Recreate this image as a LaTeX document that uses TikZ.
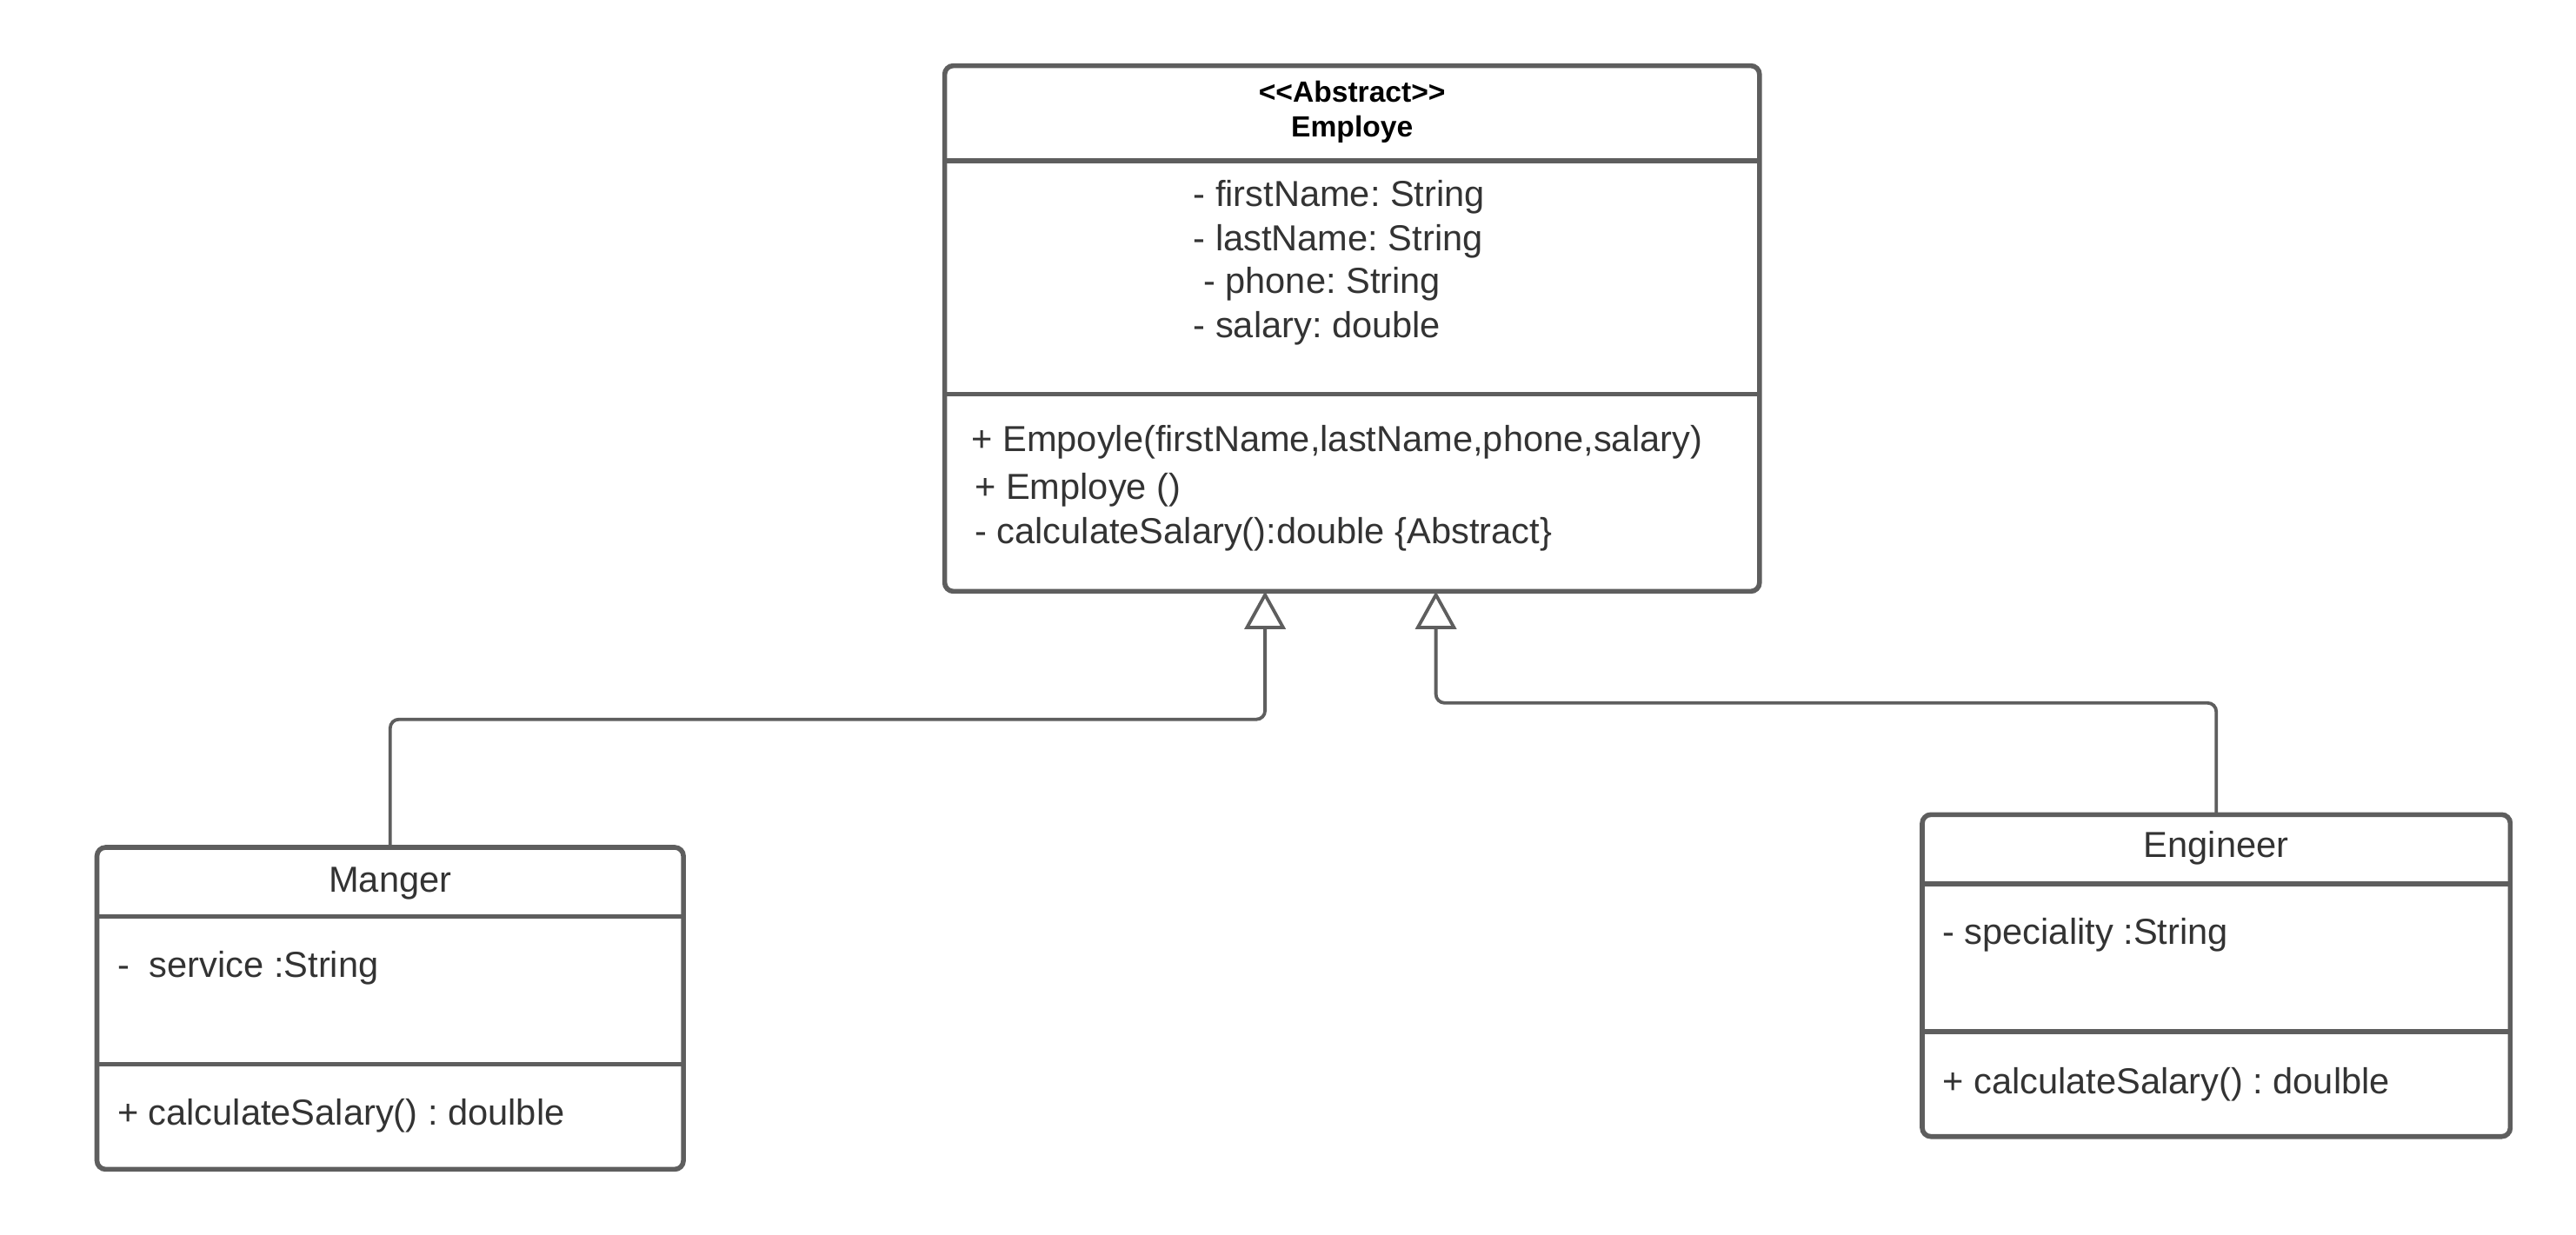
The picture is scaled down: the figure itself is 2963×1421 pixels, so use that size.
\documentclass[tikz,border=0pt]{standalone}
\usepackage{fontspec}
\setmainfont{Liberation Sans}
\usetikzlibrary{arrows.meta}
\definecolor{lineg}{HTML}{5E5E5E}
\definecolor{txtc}{HTML}{333333}
\frenchspacing
\begin{document}
\begin{tikzpicture}[x=0.25pt,y=-0.25pt,
  classbox/.style={draw=lineg, line width=1.4pt, rounded corners=2.5pt, inner sep=0pt, outer sep=0pt, anchor=north west},
  divider/.style={draw=lineg, line width=1.4pt},
  conn/.style={draw=lineg, line width=0.95pt, rounded corners=2.5pt, -{Triangle[open,length=10.9pt,width=11.8pt]}},
  txt/.style={text=txtc, font=\fontsize{10.4}{12}\selectfont, inner sep=0pt, anchor=base west},
  ctxt/.style={text=txtc, font=\fontsize{10.4}{12}\selectfont, inner sep=0pt, anchor=base},
  ttl/.style={text=black, font=\bfseries\fontsize{8.4}{10}\selectfont, inner sep=0pt, anchor=base}]
\useasboundingbox (0,0) rectangle (2963,1421);

% Employe
\node[classbox, minimum width=234.3pt, minimum height=151.2pt] (emp) at (1086.6,75.6) {};
\draw[divider] (1086.6,185.2) -- (2023.9,185.2);
\draw[divider] (1086.6,453.5) -- (2023.9,453.5);
\node[ttl] (empst) at (1555.2,118) {{<}{<}Abstract{>}{>}};
\node[ttl] (empn) at (1555.2,157.5) {Employe};
\node[txt] (ea1) at (1371.9,238) {- firstName: String};
\node[txt] (ea2) at (1371.9,289) {- lastName: String};
\node[txt] (ea3) at (1383.3,338) {- phone: String};
\node[txt] (ea4) at (1371.9,389) {- salary: double};
\node[txt] (em1) at (1116.8,519.5) {+ Empoyle(firstName,lastName,phone,salary)};
\node[txt] (em2) at (1120.6,574.3) {+ Employe ()};
\node[txt] (em3) at (1120.6,625.4) {- calculateSalary():double \{Abstract\}};

% Manger
\node[classbox, minimum width=168.65pt, minimum height=92.6pt] (mgr) at (111.5,975) {};
\draw[divider] (111.5,1054.5) -- (786.1,1054.5);
\draw[divider] (111.5,1224.5) -- (786.1,1224.5);
\node[ctxt] (mgrn) at (448.8,1026) {Manger};
\node[txt] (ma1) at (134.2,1124.3) {-\ \ service :String};
\node[txt] (mm1) at (134.2,1294.3) {+ calculateSalary() : doulble};

% Engineer
\node[classbox, minimum width=169.1pt, minimum height=92.6pt] (eng) at (2211,937.3) {};
\draw[divider] (2211,1016.7) -- (2887.5,1016.7);
\draw[divider] (2211,1186.7) -- (2887.5,1186.7);
\node[ctxt] (engn) at (2549.2,986.3) {Engineer};
\node[txt] (ga1) at (2233.6,1086.5) {- speciality :String};
\node[txt] (gm1) at (2233.6,1258.4) {+ calculateSalary() : doulble};

% connectors
\coordinate (c1) at (1455.1,827.7);
\coordinate (c2) at (1651.6,808.8);
\draw[conn] (mgr.north) |- (c1) -- (c1 |- emp.south);
\draw[conn] (eng.north) |- (c2) -- (c2 |- emp.south);
\end{tikzpicture}
\end{document}
